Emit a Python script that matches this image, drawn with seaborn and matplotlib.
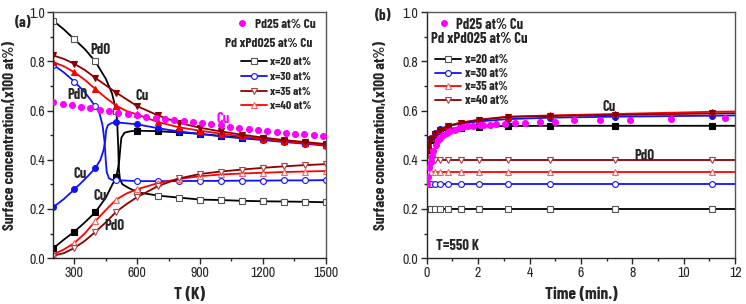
import matplotlib
matplotlib.use("Agg")
import matplotlib.pyplot as plt
import seaborn as sns
from matplotlib.ticker import MultipleLocator, FormatStrFormatter
from matplotlib.lines import Line2D

# ---------------- Panel (a): surface concentration vs T ----------------
pd25_T = [200, 244, 289, 333, 377, 422, 466, 511, 555, 599, 644, 688, 733, 777, 822,
          866, 910, 955, 999, 1044, 1088, 1132, 1177, 1221, 1266, 1310, 1354, 1399, 1443, 1488]
pd25_v = [0.634, 0.628, 0.621, 0.615, 0.610, 0.604, 0.598, 0.592, 0.586, 0.580, 0.575, 0.570,
          0.565, 0.560, 0.556, 0.552, 0.548, 0.544, 0.540, 0.535, 0.530, 0.525, 0.520, 0.516,
          0.512, 0.509, 0.506, 0.503, 0.500, 0.497]

x20_pdo_T = [200, 250, 300, 350, 400, 450, 480, 500, 505, 510, 513, 518, 530, 560, 600,
             700, 800, 900, 1000, 1100, 1200, 1300, 1400, 1500]
x20_pdo_v = [0.965, 0.93, 0.89, 0.85, 0.80, 0.73, 0.67, 0.60, 0.55, 0.45, 0.36, 0.32, 0.30,
             0.285, 0.268, 0.254, 0.246, 0.238, 0.236, 0.233, 0.231, 0.230, 0.229, 0.227]
x20_cu_T = [200, 250, 300, 350, 400, 450, 500, 510, 515, 520, 525, 540, 570, 600,
            700, 800, 900, 1000, 1100, 1200, 1300, 1400, 1500]
x20_cu_v = [0.04, 0.075, 0.107, 0.145, 0.186, 0.245, 0.33, 0.37, 0.40, 0.45, 0.49, 0.51,
            0.516, 0.518, 0.516, 0.511, 0.505, 0.497, 0.490, 0.483, 0.476, 0.468, 0.460]

x30_pdo_T = [200, 250, 300, 350, 400, 420, 435, 445, 450, 455, 465, 480, 500,
             600, 700, 800, 900, 1000, 1100, 1200, 1300, 1400, 1500]
x30_pdo_v = [0.786, 0.755, 0.718, 0.675, 0.618, 0.59, 0.54, 0.47, 0.40, 0.35, 0.325, 0.318,
             0.317, 0.313, 0.313, 0.313, 0.314, 0.314, 0.315, 0.315, 0.316, 0.316, 0.317]
x30_cu_T = [200, 250, 300, 350, 400, 425, 440, 448, 452, 460, 475, 500,
            600, 700, 800, 900, 1000, 1100, 1200, 1300, 1400, 1500]
x30_cu_v = [0.207, 0.24, 0.279, 0.32, 0.365, 0.40, 0.44, 0.48, 0.52, 0.54, 0.548, 0.552,
            0.544, 0.528, 0.515, 0.505, 0.495, 0.487, 0.480, 0.472, 0.465, 0.457]

x35_cu_T = [200, 250, 300, 350, 400, 450, 500, 600, 700, 800, 900, 1000, 1100, 1200, 1300, 1400, 1500]
x35_cu_v = [0.824, 0.81, 0.79, 0.765, 0.733, 0.703, 0.673, 0.618, 0.58, 0.55, 0.53, 0.515,
            0.502, 0.49, 0.48, 0.472, 0.464]
x35_pdo_T = [200, 250, 300, 350, 400, 450, 500, 550, 600, 700, 800, 900, 1000, 1100, 1200, 1300, 1400, 1500]
x35_pdo_v = [0.01, 0.02, 0.041, 0.07, 0.106, 0.145, 0.188, 0.22, 0.248, 0.293, 0.324, 0.342,
             0.352, 0.36, 0.367, 0.373, 0.378, 0.382]

x40_cu_T = [200, 250, 300, 350, 400, 450, 500, 550, 600, 700, 800, 900, 1000, 1100, 1200, 1300, 1400, 1500]
x40_cu_v = [0.797, 0.78, 0.756, 0.725, 0.688, 0.652, 0.62, 0.598, 0.584, 0.553, 0.532, 0.518,
            0.506, 0.495, 0.485, 0.476, 0.468, 0.46]
x40_pdo_T = [200, 250, 300, 350, 400, 450, 500, 550, 600, 700, 800, 900, 1000, 1100, 1200, 1300, 1400, 1500]
x40_pdo_v = [0.015, 0.035, 0.061, 0.10, 0.15, 0.195, 0.238, 0.263, 0.28, 0.305, 0.322, 0.333,
             0.34, 0.344, 0.347, 0.35, 0.352, 0.354]

# ---------------- Panel (b): surface concentration vs time at 550 K ----------------
pd25_t = [0.0, 0.05, 0.1, 0.15, 0.2, 0.26, 0.35, 0.45, 0.52, 0.65, 0.8, 0.91, 1.1, 1.25, 1.42,
          1.6, 1.8, 2.07, 2.2, 2.46, 2.7, 3.04, 3.43, 3.82, 4.4, 4.98, 5.73, 6.73, 7.9, 9.5, 11.6]
pd25_c = [0.30, 0.33, 0.37, 0.39, 0.415, 0.435, 0.46, 0.48, 0.49, 0.50, 0.51, 0.515, 0.522,
          0.528, 0.533, 0.536, 0.538, 0.540, 0.542, 0.543, 0.545, 0.547, 0.549, 0.550, 0.552,
          0.555, 0.560, 0.562, 0.563, 0.565, 0.568]

time_b = [0.0, 0.05, 0.17, 0.32, 0.52, 0.84, 1.32, 2.05, 3.15, 4.8, 7.33, 11.1, 12.0]
b_x20_cu = [0.38, 0.44, 0.48, 0.50, 0.515, 0.525, 0.531, 0.535, 0.537, 0.538, 0.538, 0.538, 0.538]
b_x30_cu = [0.38, 0.45, 0.49, 0.51, 0.525, 0.537, 0.547, 0.556, 0.565, 0.571, 0.575, 0.579, 0.58]
b_x35_cu = [0.38, 0.45, 0.49, 0.508, 0.522, 0.538, 0.551, 0.563, 0.575, 0.580, 0.586, 0.595, 0.596]
b_x40_cu = [0.38, 0.45, 0.485, 0.505, 0.52, 0.537, 0.55, 0.562, 0.574, 0.578, 0.582, 0.588, 0.589]
b_x20_pdo = [0.20] * 13
b_x30_pdo = [0.30] * 13
b_x35_pdo = [0.35] * 13
b_x40_pdo = [0.40] * 13

legend_labels = ["x=20 at%", "x=30 at%", "x=35 at%", "x=40 at%"]

BLACK = "#000000"
BLUE = "#1010ff"
DRED = "#8b0000"
RED = "#ff0000"
MAG = "#ff00ff"

BOLDFAM = ["Barlow Condensed", "Liberation Sans"]

sns.set_style("ticks")
plt.rcParams["font.family"] = ["Archivo Narrow", "Liberation Sans", "DejaVu Sans"]
plt.rcParams["axes.linewidth"] = 1.0

fig = plt.figure(figsize=(7.46, 3.04), dpi=100)
axa = fig.add_axes([0.0715, 0.151, 0.365, 0.809])
axb = fig.add_axes([0.572, 0.151, 0.4135, 0.809])

LW = 1.3
MS = 4.2


def marks_at_hundreds(T):
    return [i for i, t in enumerate(T) if t % 100 == 0]


def draw(ax, x, y, color, marker, filled, markevery, edge=None, z=2):
    edge = edge or color
    sns.lineplot(x=x, y=y, ax=ax, color=color, lw=LW, marker=marker, markersize=MS,
                 markevery=markevery, markerfacecolor=(color if filled else "white"),
                 markeredgecolor=edge, markeredgewidth=0.8, estimator=None, sort=False,
                 zorder=z)


def btxt(ax, x, y, s, size=10.5, **kw):
    ax.text(x, y, s, family=BOLDFAM, fontweight="bold", fontsize=size, **kw)


# ---- Panel (a)
draw(axa, x20_pdo_T, x20_pdo_v, BLACK, "s", False, marks_at_hundreds(x20_pdo_T), edge="#555555")
draw(axa, x20_cu_T, x20_cu_v, BLACK, "s", True, marks_at_hundreds(x20_cu_T))
draw(axa, x30_pdo_T, x30_pdo_v, BLUE, "o", False, marks_at_hundreds(x30_pdo_T))
draw(axa, x30_cu_T, x30_cu_v, BLUE, "o", True, marks_at_hundreds(x30_cu_T))
draw(axa, x40_pdo_T, x40_pdo_v, RED, "^", False, marks_at_hundreds(x40_pdo_T), edge="#ff6060")
draw(axa, x40_cu_T, x40_cu_v, RED, "^", True, marks_at_hundreds(x40_cu_T))
draw(axa, x35_pdo_T, x35_pdo_v, DRED, "v", False, marks_at_hundreds(x35_pdo_T), edge="#b04040")
draw(axa, x35_cu_T, x35_cu_v, DRED, "v", True, marks_at_hundreds(x35_cu_T))
sns.scatterplot(x=pd25_T, y=pd25_v, ax=axa, color=MAG, s=26, linewidth=0, zorder=3)

axa.set_xlim(200, 1500)
axa.set_ylim(0, 1.0)
axa.xaxis.set_major_locator(MultipleLocator(300))
axa.xaxis.set_minor_locator(MultipleLocator(150))
axa.yaxis.set_major_locator(MultipleLocator(0.2))
axa.yaxis.set_minor_locator(MultipleLocator(0.1))
axa.yaxis.set_major_formatter(FormatStrFormatter("%.1f"))
axa.set_xlabel("T (K)", family=BOLDFAM, fontsize=12.5, fontweight="bold")

btxt(axa, 424, 0.845, "PdO", ha="center", va="center")
btxt(axa, 314, 0.665, "PdO", ha="center", va="center")
btxt(axa, 624, 0.66, "Cu", ha="center", va="center")
btxt(axa, 1010, 0.567, "Cu", ha="center", va="center", color=MAG)
btxt(axa, 329, 0.343, "Cu", ha="center", va="center")
btxt(axa, 424, 0.253, "Cu", ha="center", va="center")
btxt(axa, 490, 0.13, "PdO", ha="center", va="center")

# ---- Panel (b)
idx_b = list(range(1, 12))
draw(axb, time_b, b_x20_pdo, BLACK, "s", False, idx_b, edge="#555555")
draw(axb, time_b, b_x30_pdo, BLUE, "o", False, idx_b)
draw(axb, time_b, b_x35_pdo, RED, "^", False, idx_b, edge="#ff6060")
draw(axb, time_b, b_x40_pdo, DRED, "v", False, idx_b, edge="#b04040")
draw(axb, time_b, b_x20_cu, BLACK, "s", True, idx_b)
draw(axb, time_b, b_x30_cu, BLUE, "o", True, idx_b)
draw(axb, time_b, b_x35_cu, RED, "^", True, idx_b)
draw(axb, time_b, b_x40_cu, DRED, "v", True, idx_b)
sns.scatterplot(x=pd25_t, y=pd25_c, ax=axb, color=MAG, s=26, linewidth=0, zorder=3)

axb.set_xlim(0, 12)
axb.set_ylim(0, 1.0)
axb.xaxis.set_major_locator(MultipleLocator(2))
axb.xaxis.set_minor_locator(MultipleLocator(1))
axb.yaxis.set_major_locator(MultipleLocator(0.2))
axb.yaxis.set_minor_locator(MultipleLocator(0.1))
axb.yaxis.set_major_formatter(FormatStrFormatter("%.1f"))
axb.set_xlabel("Time (min.)", family=BOLDFAM, fontsize=12.5, fontweight="bold")
btxt(axb, 7.08, 0.615, "Cu", ha="center", va="center")
btxt(axb, 8.48, 0.415, "PdO", ha="center", va="center", zorder=1)
btxt(axb, 0.36, 0.05, "T=550 K", ha="left", va="center")

for ax in (axa, axb):
    ax.set_ylabel("Surface concentration,(x100 at%)", family=BOLDFAM, fontsize=11,
                  fontweight="bold")
    ax.tick_params(which="major", direction="out", length=4, width=1, labelsize=10, pad=2)
    ax.tick_params(which="minor", direction="out", length=2.5, width=1)
    for s in ax.spines.values():
        s.set_visible(True)
        s.set_linewidth(1.0)
    ax.spines["top"].set_color("#555555")
    ax.spines["right"].set_color("#555555")
    ax.xaxis.set_label_coords(0.5, -0.118)

axa.yaxis.set_label_coords(-0.135, 0.5)
axb.yaxis.set_label_coords(-0.127, 0.5)


# ---- Legends
def make_handles(colors, markers, edges):
    return [Line2D([], [], color=c, lw=LW, marker=m, markersize=MS, markerfacecolor="white",
                   markeredgecolor=e, markeredgewidth=0.8) for c, m, e in zip(colors, markers, edges)]


mag_handle = Line2D([], [], lw=0, marker="o", markersize=5, color=MAG, markeredgewidth=0)

# (a)
la1 = axa.legend([mag_handle], ["Pd25 at% Cu"], loc="upper left", bbox_to_anchor=(0.667, 0.975),
                 frameon=False, borderpad=0, borderaxespad=0, handlelength=1.0,
                 handletextpad=0.55, prop=dict(family=BOLDFAM, size=9.5, weight="bold"))
axa.add_artist(la1)
btxt(axa, 0.952, 0.874, "Pd xPdO25 at% Cu", size=9.5, transform=axa.transAxes, ha="right",
     va="center")
ha = make_handles([BLACK, BLUE, DRED, RED], ["s", "o", "v", "^"],
                  ["#555555", BLUE, "#b04040", "#ff6060"])
axa.legend(ha, legend_labels, loc="upper left", bbox_to_anchor=(0.69, 0.818), frameon=False,
           borderpad=0, borderaxespad=0, handlelength=2.2, handletextpad=0.25,
           labelspacing=0.38, prop=dict(family=BOLDFAM, size=8.5, weight="bold"))

# (b)
lb1 = axb.legend([mag_handle], ["Pd25 at% Cu"], loc="upper left", bbox_to_anchor=(0.033, 0.978),
                 frameon=False, borderpad=0, borderaxespad=0, handlelength=1.0,
                 handletextpad=0.3, prop=dict(family=BOLDFAM, size=10.5, weight="bold"))
axb.add_artist(lb1)
btxt(axb, 0.014, 0.891, "Pd xPdO25 at% Cu", size=10.5, transform=axb.transAxes, ha="left",
     va="center")
hb = make_handles([BLACK, BLUE, RED, DRED], ["s", "o", "^", "v"],
                  ["#555555", BLUE, "#ff6060", "#b04040"])
axb.legend(hb, legend_labels, loc="upper left", bbox_to_anchor=(0.027, 0.828), frameon=False,
           borderpad=0, borderaxespad=0, handlelength=2.1, handletextpad=0.3,
           labelspacing=0.2, prop=dict(family=BOLDFAM, size=9, weight="bold"))

fig.text(0.02, 0.925, "(a)", family=BOLDFAM, fontsize=11, fontweight="bold", ha="left",
         va="center")
fig.text(0.503, 0.948, "(b)", family=BOLDFAM, fontsize=11, fontweight="bold", ha="left",
         va="center")

fig.savefig("out.png", dpi=100)
